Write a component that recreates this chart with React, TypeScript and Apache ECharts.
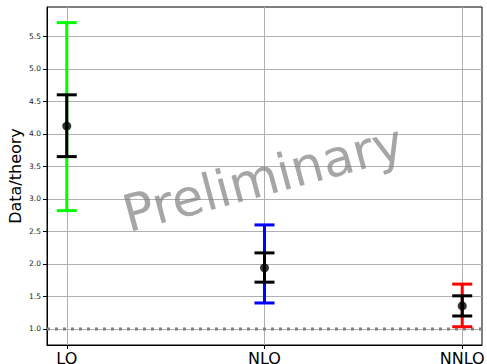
import React, { useEffect, useRef } from "react";
import * as echarts from "echarts";

const categories = ["LO", "NLO", "NNLO"];
const central = [4.12, 1.94, 1.355];
const innerLow = [3.65, 1.72, 1.2];
const innerHigh = [4.6, 2.17, 1.51];
const outerLow = [2.82, 1.4, 1.035];
const outerHigh = [5.71, 2.6, 1.69];
const outerColors = ["#00ff00", "#0000ff", "#ff0000"];
const yTicks = [1.0, 1.5, 2.0, 2.5, 3.0, 3.5, 4.0, 4.5, 5.0, 5.5];
const xTicks = [0, 1, 2];
const xRange = [-0.1, 2.1];
const yRange = [0.754, 5.95];
const referenceValue = 1.0;

const FONT = "DejaVu Sans";

function makeErrorRenderer(colorFor: (i: number) => string) {
  return (params: any, api: any) => {
    const x = api.value(0);
    const lo = api.coord([x, api.value(1)]);
    const hi = api.coord([x, api.value(2)]);
    const half = 10;
    const style = { stroke: colorFor(params.dataIndex), lineWidth: 3 };
    return {
      type: "group",
      children: [
        { type: "line", shape: { x1: lo[0], y1: lo[1], x2: hi[0], y2: hi[1] }, style },
        { type: "line", shape: { x1: lo[0] - half, y1: lo[1], x2: lo[0] + half, y2: lo[1] }, style },
        { type: "line", shape: { x1: hi[0] - half, y1: hi[1], x2: hi[0] + half, y2: hi[1] }, style },
      ],
    };
  };
}

export default function App() {
  const ref = useRef<HTMLDivElement>(null);
  useEffect(() => {
    document.body.style.margin = "0";
    const chart = echarts.init(ref.current!, null, { renderer: "svg" });
    chart.setOption({
      animation: false,
      backgroundColor: "#ffffff",
      textStyle: { fontFamily: FONT },
      grid: {
        left: 47,
        right: 5,
        top: 7,
        bottom: 19,
        containLabel: false,
        outerBoundsMode: "none",
        show: true,
        borderColor: "#000",
        borderWidth: 1,
        backgroundColor: "transparent",
      },
      xAxis: {
        type: "value",
        min: xRange[0],
        max: xRange[1],
        axisLine: { show: true, onZero: false, lineStyle: { color: "#000", width: 1 } },
        axisTick: { show: true, customValues: xTicks, length: 4, lineStyle: { color: "#000" } },
        axisLabel: {
          customValues: xTicks,
          formatter: (v: number) => categories[Math.round(v)] ?? "",
          fontSize: 16,
          lineHeight: 16,
          color: "#000",
          margin: 5,
          fontFamily: FONT,
        },
        splitLine: { show: true, lineStyle: { color: "#b0b0b0", width: 1 } },
      },
      yAxis: {
        type: "value",
        min: yRange[0],
        max: yRange[1],
        name: "Data/theory",
        nameLocation: "middle",
        nameGap: 24,
        nameMoveOverlap: false,
        nameTextStyle: { fontSize: 16, color: "#000", fontFamily: FONT },
        axisLine: { show: true, onZero: false, lineStyle: { color: "#000", width: 1 } },
        axisTick: { show: true, customValues: yTicks, length: 4, lineStyle: { color: "#000" } },
        axisLabel: {
          customValues: yTicks,
          formatter: (v: number) => v.toFixed(1),
          fontSize: 7.5,
          color: "#222",
          margin: 6,
          fontFamily: FONT,
        },
        splitLine: { show: true, lineStyle: { color: "#b0b0b0", width: 1 } },
      },
      graphic: [
        {
          type: "text",
          x: 263,
          y: 178,
          rotation: (15 * Math.PI) / 180,
          z: 100,
          style: {
            text: "Preliminary",
            fontSize: 51,
            fontFamily: FONT,
            fill: "rgba(128,128,128,0.7)",
            textAlign: "center",
            textVerticalAlign: "middle",
          },
        },
      ],
      series: [
        {
          type: "line",
          data: xRange.map((x) => [x, referenceValue]),
          symbol: "none",
          silent: true,
          lineStyle: { color: "#808080", width: 3, type: [3, 5] },
          z: 2,
        },
        {
          type: "custom",
          renderItem: makeErrorRenderer((i) => outerColors[i]),
          data: categories.map((_, i) => [i, outerLow[i], outerHigh[i]]),
          z: 3,
        },
        {
          type: "custom",
          renderItem: makeErrorRenderer(() => "#000000"),
          data: categories.map((_, i) => [i, innerLow[i], innerHigh[i]]),
          z: 4,
        },
        {
          type: "scatter",
          symbol: "circle",
          symbolSize: 9,
          itemStyle: { color: "#000" },
          data: categories.map((_, i) => [i, central[i]]),
          z: 5,
        },
      ],
    });
    return () => chart.dispose();
  }, []);
  return <div ref={ref} style={{ width: 487, height: 364 }} />;
}
